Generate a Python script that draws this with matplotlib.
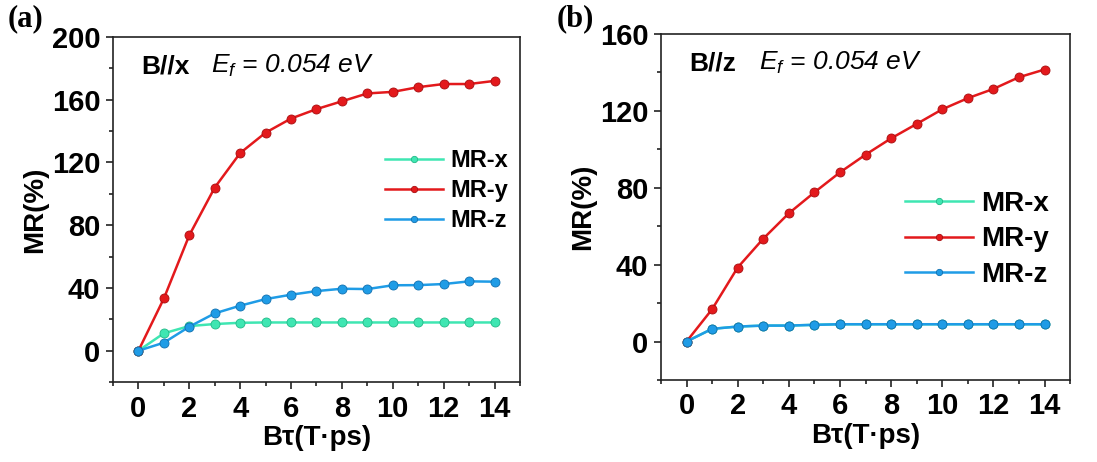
import numpy as np
import matplotlib
matplotlib.use('Agg')
import matplotlib.pyplot as plt
from matplotlib.ticker import MultipleLocator

plt.rcParams['font.family'] = ['Liberation Sans', 'DejaVu Sans']
plt.rcParams['mathtext.fontset'] = 'custom'
plt.rcParams['mathtext.it'] = 'Liberation Sans:italic'
plt.rcParams['mathtext.rm'] = 'Liberation Sans'

# ── 데이터 ──────────────────────────────────────────
b_tau = np.arange(0, 15)

# (a) B // x
mr_x_a = [0, 11.1, 15.7, 17.0, 17.8, 18.0, 18.0, 18.0, 18.0, 18.0, 18.0, 18.0, 18.0, 18.0, 18.0]
mr_y_a = [0, 33.3, 73.6, 104.0, 126.0, 139.0, 148.0, 154.0, 159.0, 164.0, 165.0, 168.0, 170.0, 170.0, 172.0]
mr_z_a = [0, 5.1, 15.3, 23.8, 28.7, 32.9, 35.7, 38.0, 39.5, 39.3, 41.7, 41.8, 42.5, 44.2, 44.0]

# (b) B // z
mr_x_b = [0, 6.6, 7.8, 8.3, 8.3, 8.7, 9.0, 9.0, 9.0, 9.0, 9.0, 9.0, 9.0, 9.0, 9.0]
mr_y_b = [0, 16.8, 38.5, 53.5, 66.7, 77.6, 88.0, 97.2, 105.7, 113.2, 120.8, 126.6, 131.4, 137.5, 141.5]
mr_z_b = [0, 6.6, 7.8, 8.3, 8.3, 8.7, 9.0, 9.0, 9.0, 9.0, 9.0, 9.0, 9.0, 9.0, 9.0]

series_labels = ['MR-x', 'MR-y', 'MR-z']
colors = ['#3fe6b2', '#e3191c', '#1f9ce6']
edge_colors = ['#22b887', '#a80e10', '#1170b0']

fig = plt.figure(figsize=(10.97, 4.62), dpi=100)
ax_a = fig.add_axes([0.103, 0.173, 0.371, 0.747])
ax_b = fig.add_axes([0.6025, 0.1775, 0.373, 0.749])


def draw_panel(ax, data, ylim, ymajor, tag, legend_anchor, leg_fs, leg_space):
    for vals, lab, c, ec in zip(data, series_labels, colors, edge_colors):
        ax.plot(b_tau, vals, '-o', color=c, lw=1.8, ms=6.5,
                mfc=c, mec=ec, mew=0.6, label=lab)
    ax.set_xlim(-1, 15)
    ax.set_ylim(*ylim)
    ax.xaxis.set_major_locator(MultipleLocator(2))
    ax.xaxis.set_minor_locator(MultipleLocator(1))
    ax.yaxis.set_major_locator(MultipleLocator(ymajor))
    ax.yaxis.set_minor_locator(MultipleLocator(ymajor / 2))
    ax.tick_params(which='both', direction='out', top=False, right=False,
                   width=1.2, color='#222222')
    ax.tick_params(which='major', length=5, labelsize=21, pad=4)
    ax.tick_params(which='minor', length=3)
    for lbl in ax.get_xticklabels() + ax.get_yticklabels():
        lbl.set_fontweight('bold')
    for sp in ax.spines.values():
        sp.set_linewidth(1.2)
        sp.set_color('#222222')
    ax.set_ylabel('MR(%)', fontsize=20, fontweight='bold', labelpad=3)
    ax.set_xlabel('Bτ(T·ps)', fontsize=20, fontweight='bold', labelpad=2)

    ax.text(0.07, 0.895, tag, transform=ax.transAxes, fontsize=19,
            fontweight='bold')
    ax.text(0.24, 0.895, r'$E_f$ = 0.054 eV', transform=ax.transAxes,
            fontsize=19, fontstyle='italic')

    leg = ax.legend(loc='upper left', bbox_to_anchor=legend_anchor,
                    frameon=False, fontsize=leg_fs, handlelength=2.45,
                    handletextpad=0.3, labelspacing=leg_space,
                    borderpad=0, markerscale=0.7)
    for t in leg.get_texts():
        t.set_fontweight('bold')


draw_panel(ax_a, [mr_x_a, mr_y_a, mr_z_a], (-20, 200), 40, 'B//x',
           (0.64, 0.71), 17, 0.3)
draw_panel(ax_b, [mr_x_b, mr_y_b, mr_z_b], (-20, 160), 40, 'B//z',
           (0.563, 0.587), 20, 0.35)

fig.text(0.007, 0.943, '(a)', fontsize=22, fontweight='bold',
         family='Liberation Serif')
fig.text(0.507, 0.943, '(b)', fontsize=22, fontweight='bold',
         family='Liberation Serif')

plt.savefig('out.png', dpi=100)
plt.close()
